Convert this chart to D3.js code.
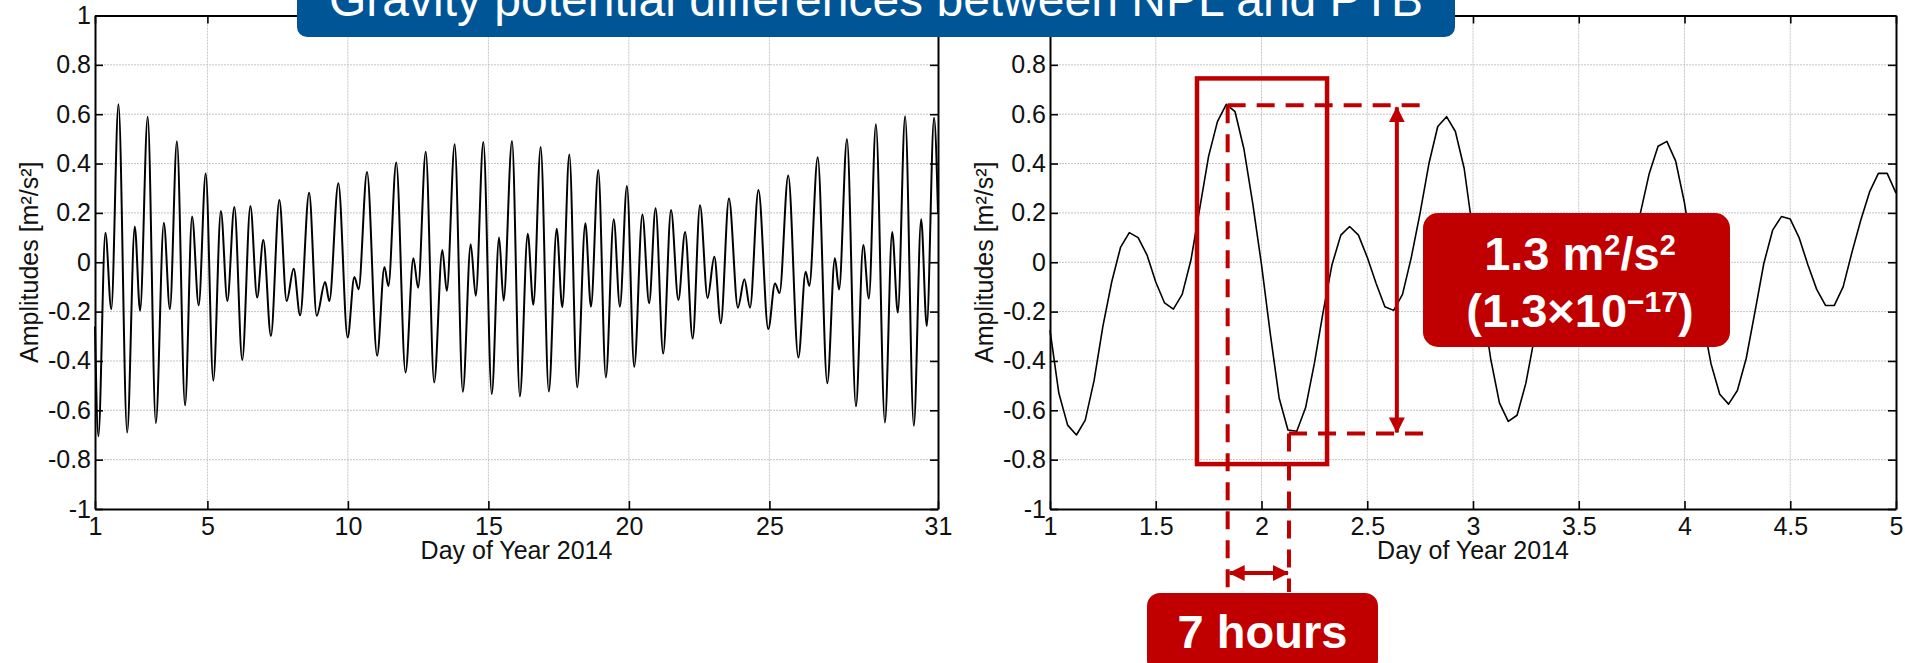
<!DOCTYPE html>
<html>
<head>
<meta charset="utf-8">
<script src="https://cdn.jsdelivr.net/npm/d3@7"></script>
<style>
  body { margin: 0; background: #fff; }
  svg { display: block; font-family: Arial, "Liberation Sans", Helvetica, sans-serif; }
  .grid line { stroke: #c4c4c4; stroke-width: 1; stroke-dasharray: 2,1; }
</style>
</head>
<body>
<svg id="chart" width="1905" height="663"></svg>
<script>
// ---- data ----
// whole month: turning points of the signal (day of year, amplitude m^2/s^2)
const monthDays = [1.00, 1.12, 1.37, 1.58, 1.835, 2.145, 2.415, 2.605, 2.875, 3.165, 3.45, 3.665, 3.915, 4.205, 4.455, 4.69, 4.94,
  5.21, 5.48, 5.71, 5.96, 6.24, 6.53, 6.77, 6.99, 7.26, 7.56, 7.82, 8.07, 8.30, 8.62, 8.89, 9.19, 9.34, 9.66,
  9.99, 10.23, 10.38, 10.68, 11.04, 11.30, 11.44, 11.72, 12.05, 12.33, 12.50, 12.77, 13.07, 13.36, 13.52, 13.80,
  14.09, 14.37, 14.55, 14.82, 15.12, 15.38, 15.54, 15.84, 16.12, 16.40, 16.60, 16.86, 17.15, 17.43, 17.63, 17.88,
  18.16, 18.45, 18.65, 18.91, 19.18, 19.46, 19.68, 19.93, 20.19, 20.48, 20.72, 20.95, 21.22, 21.50, 21.76, 22.00,
  22.27, 22.53, 22.80, 23.04, 23.27, 23.56, 23.88, 24.11, 24.31, 24.61, 24.96, 25.20, 25.36, 25.67, 26.03, 26.29,
  26.42, 26.72, 27.06, 27.33, 27.48, 27.76, 28.08, 28.34, 28.54, 28.79, 29.11, 29.37, 29.57, 29.83, 30.14, 30.40,
  30.60, 30.86, 31.00];
const monthAmps = [-0.26, -0.705, 0.12, -0.19, 0.64, -0.69, 0.145, -0.197, 0.59, -0.652, 0.16, -0.19, 0.49, -0.58, 0.185, -0.175, 0.36,
  -0.48, 0.208, -0.157, 0.224, -0.396, 0.228, -0.143, 0.09, -0.298, 0.252, -0.157, -0.026, -0.215, 0.282, -0.217, -0.08, -0.157, 0.32,
  -0.305, -0.06, -0.109, 0.366, -0.379, -0.019, -0.096, 0.404, -0.447, 0.016, -0.103, 0.448, -0.487, 0.05, -0.116, 0.478,
  -0.525, 0.073, -0.136, 0.487, -0.534, 0.10, -0.155, 0.491, -0.544, 0.116, -0.172, 0.467, -0.524, 0.136, -0.182, 0.437,
  -0.507, 0.158, -0.18, 0.374, -0.467, 0.174, -0.18, 0.309, -0.424, 0.194, -0.166, 0.219, -0.37, 0.212, -0.153, 0.123,
  -0.309, 0.231, -0.145, 0.022, -0.247, 0.258, -0.184, -0.069, -0.184, 0.293, -0.271, -0.086, -0.125, 0.352, -0.386, -0.039,
  -0.096, 0.426, -0.49, 0.016, -0.11, 0.50, -0.584, 0.07, -0.147, 0.559, -0.649, 0.123, -0.204, 0.592, -0.663, 0.174,
  -0.258, 0.586, 0.20];

// days 1 to 5: hourly samples
const hourlyAmps = [-0.275, -0.53, -0.66, -0.70, -0.64, -0.48, -0.26, -0.08, 0.06, 0.12, 0.10, 0.03, -0.08, -0.165, -0.19, -0.13,
  0.01, 0.22, 0.43, 0.57, 0.64, 0.61, 0.46, 0.24, -0.01, -0.29, -0.55, -0.68, -0.685, -0.59, -0.41, -0.20,
  -0.01, 0.11, 0.145, 0.11, 0.02, -0.085, -0.18, -0.195, -0.13, 0.02, 0.20, 0.40, 0.55, 0.59, 0.53, 0.38,
  0.12, -0.15, -0.39, -0.57, -0.645, -0.62, -0.49, -0.30, -0.10, 0.05, 0.14, 0.16, 0.12, 0.04, -0.06, -0.15,
  -0.18, -0.12, 0.02, 0.20, 0.36, 0.47, 0.49, 0.41, 0.24, 0.02, -0.22, -0.41, -0.535, -0.575, -0.52, -0.39,
  -0.20, -0.005, 0.13, 0.185, 0.175, 0.10, -0.01, -0.11, -0.175, -0.175, -0.10, 0.04, 0.17, 0.285, 0.36, 0.36, 0.28];
const hourlyDays = hourlyAmps.map((v, i) => 1 + i / 24);

const monthTicks = [1, 5, 10, 15, 20, 25, 31];
const zoomTicks = [1, 1.5, 2, 2.5, 3, 3.5, 4, 4.5, 5];
const ampTicks = [-1, -0.8, -0.6, -0.4, -0.2, 0, 0.2, 0.4, 0.6, 0.8, 1];

// annotation values (right panel)
const peakDay = 1.84, peakAmp = 0.636;
const troughDay = 2.13, troughAmp = -0.694;

const red = "#c00000";
const svg = d3.select("#chart");

svg.append("defs").append("marker")
  .attr("id", "head")
  .attr("markerUnits", "userSpaceOnUse")
  .attr("markerWidth", 16).attr("markerHeight", 16)
  .attr("refX", 15).attr("refY", 8)
  .attr("orient", "auto-start-reverse")
  .append("path").attr("d", "M0,0 L16,8 L0,16 Z").attr("fill", red);

const y = d3.scaleLinear().domain([-1, 1]).range([509, 15.5]);

function panel(left, right, xDomain, xTicks, xs, ys, curve, lw) {
  const x = d3.scaleLinear().domain(xDomain).range([left, right]);
  const g = svg.append("g");

  // grid
  const grid = g.append("g").attr("class", "grid");
  grid.selectAll("line.v")
    .data(xTicks.filter(t => t > xDomain[0] && t < xDomain[1]))
    .join("line").attr("class", "v")
    .attr("x1", d => x(d)).attr("x2", d => x(d))
    .attr("y1", y(1)).attr("y2", y(-1));
  grid.selectAll("line.h")
    .data(ampTicks.filter(t => t > -1 && t < 1))
    .join("line").attr("class", "h")
    .attr("x1", left).attr("x2", right)
    .attr("y1", d => y(d)).attr("y2", d => y(d));

  // signal
  g.append("path")
    .datum(xs.map((d, i) => [d, ys[i]]))
    .attr("fill", "none")
    .attr("stroke", "#000")
    .attr("stroke-width", lw)
    .attr("stroke-linejoin", "round")
    .attr("d", d3.line().x(d => x(d[0])).y(d => y(d[1])).curve(curve));

  // axes (matlab box, ticks inside)
  const fy = d => String(+d.toFixed(1));
  const axes = [
    g.append("g").attr("transform", `translate(0,${y(-1)})`)
      .call(d3.axisBottom(x).tickValues(xTicks).tickSizeInner(-8).tickSizeOuter(0).tickPadding(8).tickFormat(d => String(d))),
    g.append("g").attr("transform", `translate(0,${y(1)})`)
      .call(d3.axisTop(x).tickValues(xTicks).tickSizeInner(-8).tickSizeOuter(0).tickFormat("")),
    g.append("g").attr("transform", `translate(${left},0)`)
      .call(d3.axisLeft(y).tickValues(ampTicks).tickSizeInner(-8).tickSizeOuter(0).tickPadding(4).tickFormat(fy)),
    g.append("g").attr("transform", `translate(${right},0)`)
      .call(d3.axisRight(y).tickValues(ampTicks).tickSizeInner(-8).tickSizeOuter(0).tickFormat(""))
  ];
  axes.forEach(a => {
    a.attr("font-family", null).attr("font-size", 25);
    a.select(".domain").attr("stroke", "#000").attr("stroke-width", 2);
    a.selectAll(".tick line").attr("stroke", "#000").attr("stroke-width", 1.6);
    a.selectAll(".tick text").attr("fill", "#111");
  });

  g.append("text")
    .attr("x", (left + right) / 2).attr("y", 559)
    .attr("text-anchor", "middle").attr("font-size", 25).attr("fill", "#111")
    .text("Day of Year 2014");
  g.append("text")
    .attr("transform", `translate(${left - 57},${y(0)}) rotate(-90)`)
    .attr("text-anchor", "middle").attr("font-size", 25).attr("fill", "#111")
    .text("Amplitudes [m²/s²]");
  return x;
}

panel(95, 938, [1, 31], monthTicks, monthDays, monthAmps, d3.curveMonotoneX, 2);
const xR = panel(1050, 1896, [1, 5], zoomTicks, hourlyDays, hourlyAmps, d3.curveLinear, 1.6);

// title banner
svg.append("rect")
  .attr("x", 297).attr("y", -20).attr("width", 1158).attr("height", 57).attr("rx", 10)
  .attr("fill", "#005596");
svg.append("text")
  .attr("x", 876).attr("y", 16).attr("text-anchor", "middle")
  .attr("font-size", 48).attr("fill", "#fff")
  .text("Gravity potential differences between NPL and PTB");

// annotations on the right panel
const ann = svg.append("g");
const boxL = xR(1.695), boxR = xR(2.31);
ann.append("rect")
  .attr("x", boxL).attr("y", y(0.745))
  .attr("width", boxR - boxL).attr("height", y(-0.818) - y(0.745))
  .attr("fill", "none").attr("stroke", red).attr("stroke-width", 4.5);

const dashEnd = xR(2.77), dashBottom = 592;
const dashed = [
  [xR(peakDay), y(peakAmp), xR(peakDay), dashBottom],
  [xR(peakDay), y(peakAmp), dashEnd, y(peakAmp)],
  [xR(troughDay), y(troughAmp), dashEnd, y(troughAmp)],
  [xR(troughDay), y(troughAmp), xR(troughDay), dashBottom]
];
ann.selectAll("line.dash").data(dashed).join("line").attr("class", "dash")
  .attr("x1", d => d[0]).attr("y1", d => d[1]).attr("x2", d => d[2]).attr("y2", d => d[3])
  .attr("stroke", red).attr("stroke-width", 4).attr("stroke-dasharray", "18,11");

ann.append("line")
  .attr("x1", xR(2.64)).attr("x2", xR(2.64))
  .attr("y1", y(peakAmp) + 2).attr("y2", y(troughAmp) - 1)
  .attr("stroke", red).attr("stroke-width", 4)
  .attr("marker-start", "url(#head)").attr("marker-end", "url(#head)");
ann.append("line")
  .attr("x1", xR(peakDay) + 2).attr("x2", xR(troughDay) - 1)
  .attr("y1", 573).attr("y2", 573)
  .attr("stroke", red).attr("stroke-width", 4)
  .attr("marker-start", "url(#head)").attr("marker-end", "url(#head)");

// value box
ann.append("rect")
  .attr("x", 1423).attr("y", 213).attr("width", 307).attr("height", 134).attr("rx", 15)
  .attr("fill", red);
const t1 = ann.append("text")
  .attr("x", 1580).attr("y", 270).attr("text-anchor", "middle")
  .attr("font-size", 47).attr("font-weight", "bold").attr("fill", "#fff");
t1.append("tspan").text("1.3 m");
t1.append("tspan").attr("dy", -15).attr("font-size", 29).text("2");
t1.append("tspan").attr("dy", 15).text("/s");
t1.append("tspan").attr("dy", -15).attr("font-size", 29).text("2");
const t2 = ann.append("text")
  .attr("x", 1580).attr("y", 327).attr("text-anchor", "middle")
  .attr("font-size", 47).attr("font-weight", "bold").attr("fill", "#fff");
t2.append("tspan").text("(1.3×10");
t2.append("tspan").attr("dy", -15).attr("font-size", 30).text("−17");
t2.append("tspan").attr("dy", 15).text(")");

// time box
ann.append("rect")
  .attr("x", 1147).attr("y", 593).attr("width", 231).attr("height", 80).attr("rx", 13)
  .attr("fill", red);
ann.append("text")
  .attr("x", 1262.5).attr("y", 648).attr("text-anchor", "middle")
  .attr("font-size", 47).attr("font-weight", "bold").attr("fill", "#fff")
  .text("7 hours");
</script>
</body>
</html>
